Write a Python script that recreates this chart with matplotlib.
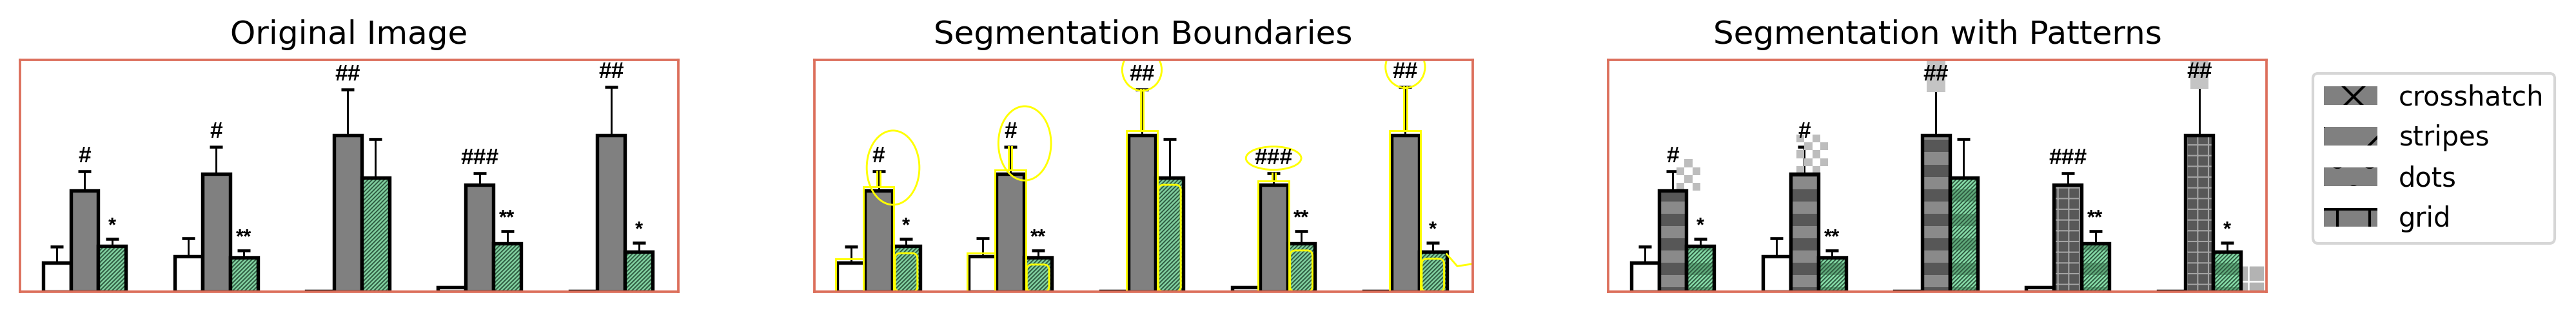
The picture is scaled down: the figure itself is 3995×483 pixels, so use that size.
import numpy as np
import matplotlib.pyplot as plt
from matplotlib.patches import Patch, Rectangle, Ellipse, FancyBboxPatch

# values, in percent of the panel height
white_vals = [12.6, 15.2, 0.4, 2.0, 0.4]
white_err = [6.8, 7.9, 0.0, 0.0, 0.0]
gray_vals = [43.5, 50.8, 67.6, 46.1, 67.6]
gray_err = [8.5, 11.7, 19.6, 5.0, 20.8]
green_vals = [19.6, 14.7, 49.1, 20.8, 17.2]
green_err = [3.3, 3.1, 16.8, 5.2, 4.0]
gray_marks = ['#', '#', '##', '###', '##']
green_marks = ['*', '**', '', '**', '*']
gray_pattern = ['stripes', 'stripes', 'stripes', 'grid', 'grid']
titles = ['Original Image', 'Segmentation Boundaries', 'Segmentation with Patterns']
legend_labels = ['crosshatch', 'stripes', 'dots', 'grid']
legend_hatches = ['x', '/', 'o', '+']

W = 0.21
FRAME = '#dc6f5b'
YELLOW = '#ffff00'
GREEN = '#80cf9f'
HATCH_GREEN = '#2e5a40'
EDGE = 1.3
BAND = 5.3

x = np.arange(len(gray_vals)) + 0.49
xw = x - W
xr = x + W


def hatch_lw(container, lw):
    for p in container:
        if hasattr(p, 'set_hatch_linewidth'):
            p.set_hatch_linewidth(lw)


def errs(ax, xs, vals, err):
    xs = np.asarray(xs)
    vals = np.asarray(vals)
    err = np.asarray(err)
    keep = err > 0
    ax.errorbar(xs[keep], vals[keep], yerr=[np.zeros(keep.sum()), err[keep]],
                fmt='none', ecolor='black', elinewidth=0.7, capsize=2.4,
                capthick=1.1, zorder=1)


def marks(ax):
    for i in range(len(x)):
        ax.text(x[i], gray_vals[i] + gray_err[i] + 6.5, gray_marks[i], ha='center',
                va='center', fontsize=8.5, fontweight='bold', family='Liberation Sans', zorder=5)
        if green_marks[i]:
            ax.text(xr[i], green_vals[i] + green_err[i] + 5.5, green_marks[i], ha='center',
                    va='center', fontsize=7.5, fontweight='bold', family='Liberation Sans', zorder=5)


def plain_chart(ax):
    errs(ax, xw, white_vals, white_err)
    errs(ax, x, gray_vals, gray_err)
    errs(ax, xr, green_vals, green_err)
    ax.bar(xw, white_vals, W, color='white', edgecolor='black', linewidth=EDGE, zorder=2)
    ax.bar(x, gray_vals, W, color='#808080', edgecolor='black', linewidth=EDGE, zorder=2)
    with plt.rc_context({'hatch.linewidth': 0.45}):
        b = ax.bar(xr, green_vals, W, color=GREEN, edgecolor=HATCH_GREEN, linewidth=0,
                   hatch='/' * 16, zorder=2)
    hatch_lw(b, 0.45)
    ax.bar(xr, green_vals, W, fill=False, edgecolor='black', linewidth=EDGE, zorder=3)
    marks(ax)


def pattern_chart(ax):
    errs(ax, xw, white_vals, white_err)
    errs(ax, x, gray_vals, gray_err)
    errs(ax, xr, green_vals, green_err)
    ax.bar(xw, white_vals, W, color='white', edgecolor='black', linewidth=EDGE, zorder=2)
    for i in range(len(x)):
        edges = np.arange(-3.45, max(gray_vals[i], green_vals[i]) + BAND, BAND)
        if gray_pattern[i] == 'stripes':
            for k, b0 in enumerate(edges):
                lo, hi = max(b0, 0), min(b0 + BAND, gray_vals[i])
                if hi > lo:
                    ax.bar(x[i], hi - lo, W, bottom=lo, linewidth=0,
                           color='#575757' if k % 2 == 0 else '#8a8a8a', zorder=2)
        else:
            with plt.rc_context({'hatch.linewidth': 0.5}):
                b = ax.bar(x[i], gray_vals[i], W, color='#585858', edgecolor='#a3a3a3',
                           linewidth=0, hatch='+++', zorder=2)
            hatch_lw(b, 0.5)
        for k, b0 in enumerate(edges):
            lo, hi = max(b0, 0), min(b0 + BAND, green_vals[i])
            if hi > lo:
                with plt.rc_context({'hatch.linewidth': 0.45}):
                    b = ax.bar(xr[i], hi - lo, W, bottom=lo, linewidth=0,
                               color='#5faa7a' if k % 2 == 0 else '#86dca8',
                               edgecolor=HATCH_GREEN, hatch='/' * 16, zorder=2)
                hatch_lw(b, 0.45)
    ax.bar(x, gray_vals, W, fill=False, edgecolor='black', linewidth=EDGE, zorder=3)
    ax.bar(xr, green_vals, W, fill=False, edgecolor='black', linewidth=EDGE, zorder=3)
    marks(ax)

    # segmentation leftovers: checker blobs beside the first two '#' marks
    for i in [0, 1]:
        x0 = x[i] + (0.03 if i == 0 else -0.06)
        y0 = gray_vals[i]
        y1 = gray_vals[i] + gray_err[i] + 7
        cw, ch = 0.06, 3.4
        nx = 3 if i == 0 else 4
        ny = int((y1 - y0) / ch)
        for a in range(nx):
            for c in range(ny):
                if (a + c) % 2 == 0:
                    ax.add_patch(Rectangle((x0 + a * cw, y0 + c * ch), cw, ch,
                                           color='#bdbdbd', lw=0, zorder=1))
    # gray shading around the top '##' marks
    for i in [2, 4]:
        ax.add_patch(Rectangle((x[i] - 0.07, gray_vals[i] + gray_err[i] - 1), 0.14, 15,
                               color='#c4c4c4', lw=0, zorder=1))
    # gray corner patch at the bottom right
    with plt.rc_context({'hatch.linewidth': 0.6}):
        p = Rectangle((xr[-1] + W / 2, 0), 5.0 - xr[-1] - W / 2, 11.5, facecolor='#b3b3b3',
                      edgecolor='white', lw=0, hatch='++', zorder=1)
    if hasattr(p, 'set_hatch_linewidth'):
        p.set_hatch_linewidth(0.6)
    ax.add_patch(p)


def boundary_chart(ax):
    plain_chart(ax)
    yl = 0.7
    asp = (360 / 100) / (1021 / 5.0)
    for i in range(len(x)):
        ax.add_patch(Rectangle((x[i] - W / 2 - 0.012, 0), W + 0.024, gray_vals[i] + 1.8,
                               fill=False, ec=YELLOW, lw=yl, zorder=4))
        ax.add_patch(FancyBboxPatch((xr[i] - W / 2 + 0.02, 0), W - 0.04, green_vals[i] - 3,
                                    boxstyle='round,pad=0,rounding_size=0.04',
                                    mutation_aspect=1 / asp, fill=False, ec=YELLOW,
                                    lw=yl, zorder=4))
        if white_err[i] > 0:
            ax.add_patch(Rectangle((xw[i] - W / 2 - 0.01, 0), W, white_vals[i] + 1.5,
                                   fill=False, ec=YELLOW, lw=yl, zorder=4))
        cap = gray_vals[i] + gray_err[i]
        ax.plot([x[i] - 0.012, x[i] - 0.012], [gray_vals[i] + 1.8, cap], color=YELLOW, lw=yl, zorder=4)
        ax.plot([x[i] + 0.012, x[i] + 0.012], [gray_vals[i] + 1.8, cap], color=YELLOW, lw=yl, zorder=4)
        my = cap + 6.5
        if gray_marks[i] == '#':
            ax.add_patch(Ellipse((x[i] + 0.11, my - 5), 0.4, 32, fill=False, ec=YELLOW, lw=yl, zorder=4))
        elif gray_marks[i] == '###':
            ax.add_patch(Ellipse((x[i], my), 0.42, 10, fill=False, ec=YELLOW, lw=yl, zorder=4))
        else:
            ax.add_patch(Ellipse((x[i], my + 2), 0.3, 18, fill=False, ec=YELLOW, lw=yl, zorder=4))
    ax.plot([xr[-1] + W / 2, xr[-1] + W / 2 + 0.08, 5.0],
            [green_vals[-1] - 1, 11, 12], color=YELLOW, lw=yl, zorder=4)


fig = plt.figure(figsize=(3995 / 300, 483 / 300), dpi=300)
axes = []
for k in range(3):
    ax = fig.add_axes([(31 + 1231.5 * k) / 3995, 30 / 483, 1021 / 3995, 360 / 483])
    ax.set_xlim(0, 5.0)
    ax.set_ylim(0, 100)
    ax.set_xticks([])
    ax.set_yticks([])
    for s in ax.spines.values():
        s.set_color(FRAME)
        s.set_linewidth(0.9)
        s.set_zorder(6)
    ax.set_title(titles[k], fontsize=12)
    axes.append(ax)

plain_chart(axes[0])
boundary_chart(axes[1])
pattern_chart(axes[2])

handles = [Patch(facecolor='#808080', edgecolor='black', linewidth=0, hatch=h) for h in legend_hatches]
axes[2].legend(handles, legend_labels, bbox_to_anchor=(1.05, 1), loc='upper left', fontsize=10)

plt.savefig('out.png', dpi=300)
